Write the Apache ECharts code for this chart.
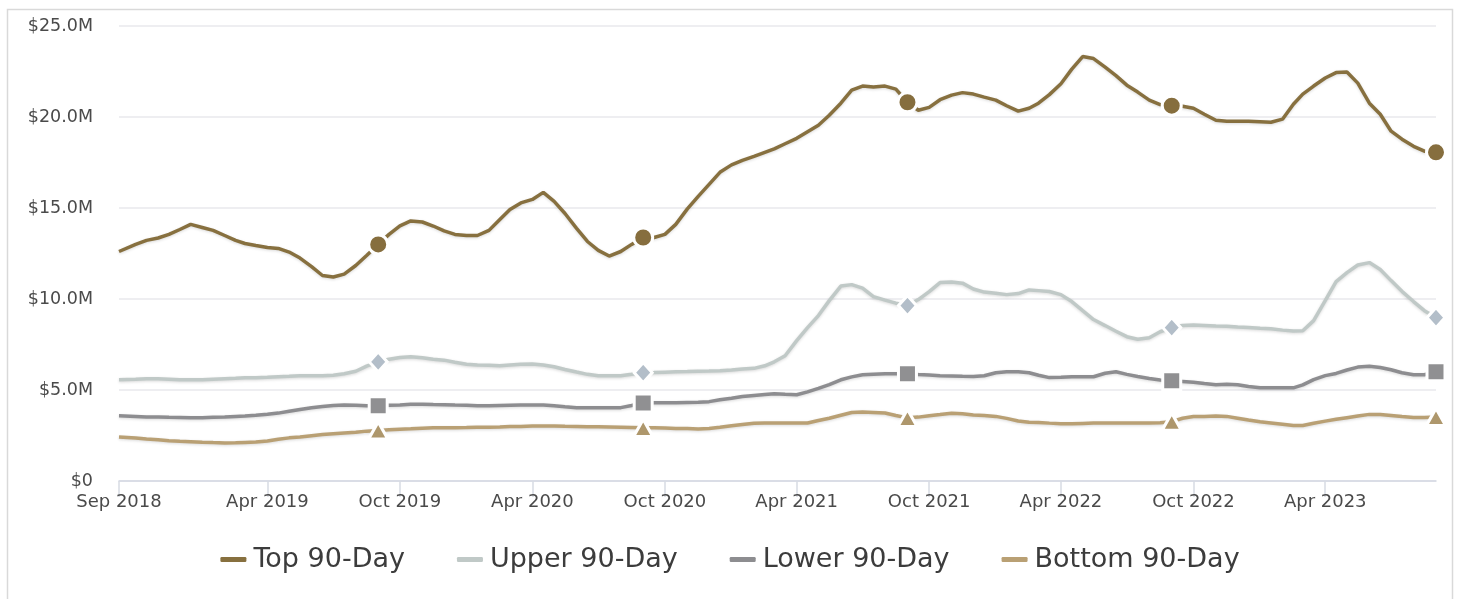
<!DOCTYPE html>
<html><head><meta charset="utf-8">
<script src="https://cdn.jsdelivr.net/npm/echarts@6/dist/echarts.min.js"></script>
<style>html,body{margin:0;padding:0;background:#fff}#c{width:1460px;height:599px}</style>
</head><body><div id="c"></div>
<script>
const dates = [
'2018-09-08','2018-10-01','2018-10-16','2018-11-01','2018-11-16','2018-12-01','2018-12-16',
'2019-01-01','2019-01-16','2019-02-01','2019-02-16','2019-03-01','2019-03-16','2019-04-01','2019-04-16','2019-05-01','2019-05-16','2019-06-01','2019-06-16','2019-07-01','2019-07-16','2019-08-01','2019-08-16','2019-09-01','2019-09-16','2019-10-01','2019-10-16','2019-11-01','2019-11-16','2019-12-01','2019-12-16',
'2020-01-01','2020-01-16','2020-02-01','2020-02-16','2020-03-01','2020-03-16','2020-04-01','2020-04-16','2020-05-01','2020-05-16','2020-06-01','2020-06-16','2020-07-01','2020-07-16','2020-08-01','2020-08-16','2020-09-01','2020-09-16','2020-10-01','2020-10-16','2020-11-01','2020-11-16','2020-12-01','2020-12-16',
'2021-01-01','2021-01-16','2021-02-01','2021-02-16','2021-03-01','2021-03-16','2021-04-01','2021-04-16','2021-05-01','2021-05-16','2021-06-01','2021-06-16','2021-07-01','2021-07-16','2021-08-01','2021-08-16','2021-09-01','2021-09-16','2021-10-01','2021-10-16','2021-11-01','2021-11-16','2021-12-01','2021-12-16',
'2022-01-01','2022-01-16','2022-02-01','2022-02-16','2022-03-01','2022-03-16','2022-04-01','2022-04-16','2022-05-01','2022-05-16','2022-06-01','2022-06-16','2022-07-01','2022-07-16','2022-08-01','2022-08-16','2022-09-01','2022-09-16','2022-10-01','2022-10-16','2022-11-01','2022-11-16','2022-12-01','2022-12-16',
'2023-01-01','2023-01-16','2023-02-01','2023-02-16','2023-03-01','2023-03-16','2023-04-01','2023-04-16','2023-05-01','2023-05-16','2023-06-01','2023-06-16','2023-07-01','2023-07-16','2023-08-01','2023-08-16','2023-09-01'
];
// values in $ millions
const top90 = [
12.61,13.00,13.22,13.35,13.55,13.82,14.10,
13.93,13.77,13.49,13.22,13.05,12.94,12.83,12.78,12.58,12.25,11.78,11.29,11.21,11.37,11.84,12.39,13.00,13.55,14.02,14.29,14.23,14.01,13.74,13.55,
13.49,13.49,13.77,14.37,14.92,15.28,15.47,15.86,15.36,14.70,13.88,13.16,12.67,12.36,12.61,13.00,13.38,13.38,13.55,14.10,14.95,15.64,16.30,16.96,
17.37,17.62,17.84,18.06,18.25,18.53,18.83,19.19,19.55,20.10,20.76,21.48,21.70,21.65,21.70,21.53,20.81,20.37,20.53,20.95,21.20,21.34,21.26,21.09,
20.93,20.62,20.32,20.48,20.76,21.23,21.83,22.63,23.32,23.21,22.74,22.27,21.75,21.37,20.93,20.68,20.62,20.59,20.48,20.15,19.82,19.77,19.77,19.77,
19.74,19.71,19.88,20.70,21.26,21.70,22.14,22.44,22.47,21.86,20.76,20.15,19.22,18.78,18.39,18.12,18.06
];
const upper90 = [
5.56,5.59,5.62,5.62,5.59,5.56,5.56,
5.56,5.59,5.62,5.64,5.67,5.67,5.70,5.73,5.75,5.78,5.78,5.78,5.81,5.89,6.03,6.31,6.55,6.69,6.79,6.83,6.77,6.69,6.64,6.53,
6.42,6.37,6.36,6.33,6.37,6.41,6.43,6.37,6.28,6.13,5.99,5.86,5.78,5.78,5.78,5.86,5.95,5.96,5.98,6.00,6.01,6.03,6.04,6.06,
6.10,6.15,6.19,6.33,6.55,6.88,7.71,8.43,9.09,9.91,10.71,10.79,10.60,10.13,9.94,9.77,9.64,9.97,10.41,10.90,10.93,10.87,10.55,10.38,
10.32,10.24,10.30,10.50,10.46,10.41,10.24,9.86,9.36,8.87,8.54,8.23,7.93,7.79,7.87,8.20,8.43,8.54,8.57,8.55,8.52,8.50,8.46,8.43,
8.39,8.36,8.29,8.24,8.26,8.81,9.91,10.96,11.45,11.87,12.00,11.62,11.01,10.42,9.86,9.36,8.98
];
const lower90 = [
3.58,3.55,3.52,3.52,3.50,3.49,3.47,
3.47,3.50,3.52,3.55,3.57,3.61,3.67,3.73,3.83,3.93,4.03,4.09,4.15,4.18,4.16,4.14,4.13,4.16,4.18,4.22,4.22,4.20,4.19,4.17,
4.16,4.14,4.14,4.15,4.16,4.17,4.18,4.17,4.13,4.08,4.03,4.02,4.02,4.02,4.03,4.15,4.28,4.30,4.30,4.30,4.32,4.33,4.36,4.46,
4.55,4.64,4.70,4.75,4.79,4.76,4.74,4.90,5.09,5.30,5.56,5.72,5.84,5.87,5.89,5.89,5.89,5.85,5.82,5.78,5.77,5.75,5.74,5.78,
5.95,6.00,6.00,5.95,5.81,5.68,5.70,5.73,5.73,5.73,5.92,6.00,5.86,5.74,5.63,5.55,5.51,5.47,5.43,5.36,5.29,5.31,5.29,5.19,
5.12,5.12,5.12,5.12,5.28,5.57,5.79,5.91,6.10,6.26,6.30,6.24,6.11,5.95,5.84,5.84,6.00
];
const bottom90 = [
2.42,2.36,2.31,2.26,2.21,2.18,2.16,
2.13,2.11,2.09,2.10,2.12,2.14,2.20,2.29,2.37,2.42,2.49,2.55,2.60,2.64,2.68,2.74,2.78,2.82,2.85,2.87,2.90,2.92,2.93,2.93,
2.94,2.96,2.96,2.97,2.99,3.00,3.02,3.02,3.02,3.01,3.00,2.98,2.98,2.97,2.96,2.94,2.92,2.92,2.91,2.89,2.88,2.86,2.88,2.95,
3.03,3.10,3.17,3.19,3.19,3.19,3.19,3.19,3.32,3.45,3.61,3.76,3.79,3.77,3.74,3.60,3.47,3.51,3.59,3.65,3.72,3.69,3.63,3.60,
3.55,3.44,3.30,3.23,3.21,3.18,3.15,3.14,3.16,3.18,3.19,3.19,3.19,3.19,3.19,3.20,3.26,3.45,3.54,3.55,3.57,3.55,3.45,3.35,
3.25,3.19,3.12,3.05,3.05,3.17,3.29,3.39,3.48,3.57,3.66,3.66,3.60,3.54,3.49,3.49,3.52
];
const seriesNames = ['Top 90-Day','Upper 90-Day','Lower 90-Day','Bottom 90-Day'];
const markerDates = ['2019-09-01','2020-09-01','2021-09-01','2022-09-01','2023-09-01'];
const xTickLabels = ['Sep 2018','Apr 2019','Oct 2019','Apr 2020','Oct 2020','Apr 2021','Oct 2021','Apr 2022','Oct 2022','Apr 2023'];
const xTickDates = ['2018-09-08','2019-04-01','2019-10-01','2020-04-01','2020-10-01','2021-04-01','2021-10-01','2022-04-01','2022-10-01','2023-04-01'];

function ts(s){const p=s.split('-').map(Number);return new Date(p[0],p[1]-1,p[2]).getTime();}
const xTickTs = xTickDates.map(ts);

const styles = [
  {line:'#87703f', marker:'#866e3e', symbol:'circle', size:19},
  {line:'#c0c9c7', marker:'#b3bec9', symbol:'diamond', size:[18,20]},
  {line:'#8d8d90', marker:'#909092', symbol:'rect', size:18},
  {line:'#b9a074', marker:'#ae976c', symbol:'triangle', size:[19,17]}
];
const valueSets = [top90, upper90, lower90, bottom90];

function buildData(values, st){
  return dates.map((d,i)=> markerDates.indexOf(d) >= 0
    ? {value:[ts(d), values[i]], symbol:st.symbol, symbolSize:st.size,
       itemStyle:{color:st.marker, borderColor:'#fff', borderWidth:3}}
    : [ts(d), values[i]]);
}

const FONT = 'DejaVu Sans';
const chart = echarts.init(document.getElementById('c'), null, {renderer:'canvas'});
chart.setOption({
  animation:false,
  backgroundColor:'#fff',
  graphic:[{type:'rect', shape:{x:7.5,y:9.5,width:1445,height:620}, style:{fill:'none', stroke:'#d9d9d9', lineWidth:1.5}, silent:true, z:-1}],
  grid:{left:119, right:24, top:26, bottom:118, containLabel:false},
  legend:{
    data:seriesNames, top:541, left:'center', icon:'roundRect',
    itemWidth:26, itemHeight:5, itemGap:52,
    textStyle:{fontFamily:FONT, fontSize:27, color:'#3c3c3c', padding:[0,0,0,2]}
  },
  xAxis:{
    type:'value', min:ts('2018-09-08'), max:ts('2023-09-01'),
    axisLine:{show:true, lineStyle:{color:'#d3d7e2', width:1.5}},
    axisTick:{show:true, length:16, lineStyle:{color:'#d8dbe3', width:1.5}, customValues:xTickTs},
    splitLine:{show:false},
    axisLabel:{
      customValues:xTickTs, margin:12, fontFamily:FONT, fontSize:18, color:'#4a4a4a',
      formatter:function(val){
        let best=0, bd=Infinity;
        xTickTs.forEach((t,i)=>{const d=Math.abs(t-val); if(d<bd){bd=d;best=i;}});
        return xTickLabels[best];
      }
    }
  },
  yAxis:{
    type:'value', min:0, max:25, interval:5,
    axisLine:{show:false}, axisTick:{show:false},
    splitLine:{lineStyle:{color:'#e9e9ec', width:1.5}},
    axisLabel:{margin:26, fontFamily:FONT, fontSize:17.5, color:'#4a4a4a', padding:[3,0,0,0],
      formatter:v=> v===0 ? '$0' : '$'+v.toFixed(1)+'M'}
  },
  series: seriesNames.map((n,k)=>({
    name:n, type:'line', symbol:'none', showSymbol:true,
    color:styles[k].line,
    lineStyle:{width:3.5, color:styles[k].line, shadowBlur:3, shadowColor:'rgba(0,0,0,0.15)', shadowOffsetY:1},
    itemStyle:{color:styles[k].line},
    data: buildData(valueSets[k], styles[k]),
    z: 4-k
  }))
});
</script></body></html>
